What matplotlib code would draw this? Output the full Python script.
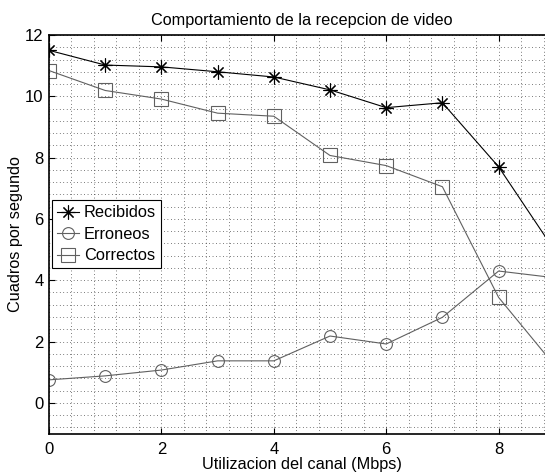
import matplotlib
matplotlib.use("Agg")
import matplotlib.pyplot as plt
from matplotlib.ticker import MultipleLocator

plt.rcParams['font.family'] = ['Liberation Sans', 'DejaVu Sans']

# datos
x = [0, 1, 2, 3, 4, 5, 6, 7, 8, 9]
recibidos = [11.5, 11.02, 10.96, 10.8, 10.63, 10.21, 9.63, 9.79, 7.7, 4.96]
erroneos = [0.75, 0.88, 1.07, 1.37, 1.37, 2.18, 1.92, 2.79, 4.3, 4.08]
correctos = [10.84, 10.19, 9.91, 9.45, 9.35, 8.07, 7.74, 7.05, 3.44, 1.21]

fig = plt.figure(figsize=(5.45, 4.73), dpi=100)
ax = fig.add_axes([49 / 545, 39.5 / 473, 505.8 / 545, 398.5 / 473])

gris = '#606060'
ax.plot(x, recibidos, color='black', lw=0.8, marker=(8, 2, 0), markersize=10,
        markerfacecolor='none', markeredgewidth=0.8, label='Recibidos')
ax.plot(x, erroneos, color=gris, lw=0.8, marker='o', markersize=8.5,
        markerfacecolor='none', markeredgewidth=0.8, label='Erroneos')
ax.plot(x, correctos, color=gris, lw=0.8, marker='s', markersize=9.5,
        markerfacecolor='none', markeredgewidth=0.8, label='Correctos')

ax.set_xlim(0, 9)
ax.set_ylim(-1, 12)
ax.set_xticks([0, 2, 4, 6, 8])
ax.set_yticks([0, 2, 4, 6, 8, 10, 12])
ax.xaxis.set_minor_locator(MultipleLocator(0.4))
ax.yaxis.set_minor_locator(MultipleLocator(0.4))
ax.grid(True, which='both', color='black', linestyle=(0, (1, 4)), lw=0.5)
ax.tick_params(which='major', direction='in', length=4, top=True, right=False,
               labelsize=12, pad=4)
ax.tick_params(axis='x', which='major', pad=6)
ax.tick_params(which='minor', length=0)
for s in ax.spines.values():
    s.set_linewidth(1.2)
ax.spines['right'].set_visible(False)

ax.set_title('Comportamiento de la recepcion de video', fontsize=11.7, pad=7)
ax.set_xlabel('Utilizacion del canal (Mbps)', fontsize=11.7, labelpad=0)
ax.set_ylabel('Cuadros por segundo', fontsize=11.7, labelpad=1)

leg = ax.legend(loc='upper left', bbox_to_anchor=(0.006, 0.585), fontsize=11.8,
                frameon=True, fancybox=False, numpoints=1, handlelength=1.35,
                handletextpad=0.3, borderpad=0.3, labelspacing=0.4,
                borderaxespad=0)
leg.get_frame().set_edgecolor('black')
leg.get_frame().set_linewidth(0.8)
leg.get_frame().set_alpha(1)

fig.savefig('out.png', dpi=100)
